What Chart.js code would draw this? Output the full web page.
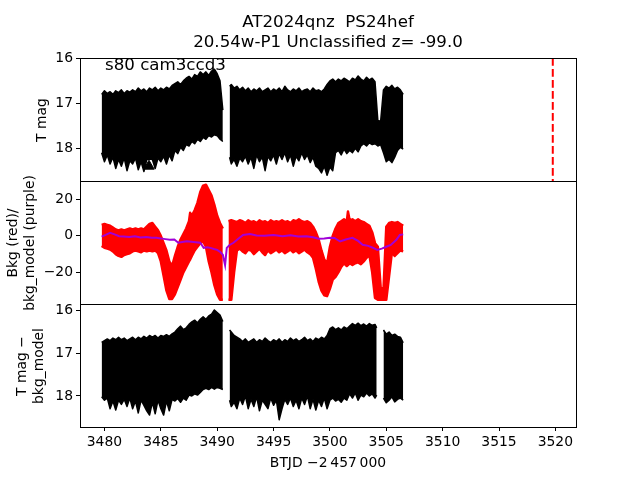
<!DOCTYPE html>
<html><head><meta charset="utf-8">
<script src="https://cdn.jsdelivr.net/npm/chart.js@4.4.1/dist/chart.umd.min.js"></script>
<style>
html,body{margin:0;padding:0;background:#fff;}
#fig{position:relative;width:640px;height:480px;overflow:hidden;font-family:'DejaVu Sans',sans-serif;color:#000;background:#fff;}
canvas{position:absolute;left:0;}
.t{position:absolute;white-space:pre;}
.rot{position:absolute;white-space:pre;text-align:center;transform:translate(-50%,-50%) rotate(-90deg);font-size:13.9px;line-height:16.7px;}
</style></head><body>
<div id="fig">
<canvas id="c1" width="640" height="155" style="top:42px"></canvas>
<canvas id="c2" width="640" height="155" style="top:165px"></canvas>
<canvas id="c3" width="640" height="192" style="top:288px"></canvas>
<div class="t" id="title" style="left:0;width:656px;top:12px;text-align:center;font-size:16.67px;line-height:20px;"></div>
<div class="t" id="note" style="left:105px;top:55px;font-size:16.67px;line-height:20px;"></div>
<div class="rot" id="yl1" style="left:41px;top:119.5px;"></div>
<div class="rot" id="yl2" style="left:21px;top:242.5px;"></div>
<div class="rot" id="yl3" style="left:30px;top:365.5px;"></div>
<div class="t" id="xl" style="left:0;width:656px;top:454px;text-align:center;font-size:13.9px;line-height:16px;"></div>
</div>
<script>
// ---- text ----
const titleLines = ["AT2024qnz  PS24hef", "20.54w-P1 Unclassified z= -99.0"];
const noteText = "s80 cam3ccd3";
const yLabel1 = "T mag";
const yLabel2 = "Bkg (red)/\nbkg_model (purple)";
const yLabel3 = "T mag \u2212\nbkg_model";
const xLabel = "BTJD \u22122\u2009457\u2009000";

// ---- axis ranges ----
const xRange = [3477.83, 3521.83];
const xTickStep = 5;
const y1Range = [15.99, 18.73];
const y2Range = [-37.3, 30.0];
const y3Range = [15.84, 18.73];

// ---- panel 1: T mag light curve (bright edge / faint edge of the error-bar cloud) ----
const p1T = [3479.75,3480.00,3480.25,3480.50,3480.75,3481.00,3481.25,3481.50,3481.75,3482.00,
3482.25,3482.50,3482.75,3483.00,3483.25,3483.50,3483.75,3484.00,3484.25,3484.50,
3484.75,3485.00,3485.25,3485.50,3485.75,3486.00,3486.25,3486.50,3486.75,3487.00,
3487.25,3487.50,3487.75,3488.00,3488.25,3488.50,3488.75,3489.00,3489.25,3489.50,
3489.75,3490.00,3490.25,3490.50,
3490.80,
3491.10,3491.25,3491.50,3491.75,3492.00,3492.25,3492.50,3492.75,3493.00,3493.25,
3493.50,3493.75,3494.00,3494.25,3494.50,3494.75,3495.00,3495.25,3495.50,3495.75,
3496.00,3496.25,3496.50,3496.75,3497.00,3497.25,3497.50,3497.75,3498.00,3498.25,
3498.50,3498.75,3499.00,3499.25,3499.50,3499.75,3500.00,3500.25,3500.50,3500.75,
3501.00,3501.25,3501.50,3501.75,3502.00,3502.25,3502.50,3502.75,3503.00,3503.25,
3503.50,3503.75,3504.00,3504.25,3504.50,3504.75,3505.00,3505.25,3505.50,3505.75,
3506.00,3506.25,3506.50];
const p1Bright = [16.80,16.72,16.78,16.74,16.80,16.72,16.76,16.70,16.78,16.72,
16.75,16.70,16.74,16.66,16.72,16.68,16.74,16.66,16.70,16.64,
16.72,16.66,16.70,16.64,16.68,16.60,16.56,16.52,16.58,16.50,
16.44,16.40,16.46,16.36,16.40,16.30,16.36,16.30,16.38,16.28,
16.24,16.34,16.50,17.15,
null,
16.62,16.58,16.66,16.62,16.70,16.64,16.72,16.66,16.74,16.68,
16.72,16.66,16.74,16.70,16.66,16.74,16.68,16.72,16.66,16.74,
16.62,16.70,16.74,16.68,16.72,16.66,16.74,16.70,16.68,16.74,
16.66,16.72,16.70,16.74,16.68,16.58,16.50,16.46,16.52,16.46,
16.50,16.44,16.48,16.52,16.44,16.48,16.39,16.46,16.50,16.42,
16.48,16.44,16.52,17.38,17.40,16.70,16.62,16.66,16.60,16.68,
16.64,16.70,16.80];
const p1Faint = [18.10,18.30,18.15,18.35,18.20,18.45,18.25,18.40,18.22,18.50,
18.28,18.35,18.22,18.48,18.30,18.52,18.26,18.24,18.25,18.45,
18.22,18.30,18.18,18.35,18.15,18.28,18.05,18.12,17.98,18.05,
17.92,17.95,17.85,17.90,17.80,17.85,17.76,17.80,17.72,17.75,
17.70,17.72,17.80,17.85,
null,
18.20,18.35,18.25,18.40,18.22,18.30,18.18,18.35,18.20,18.45,
18.15,18.30,18.20,18.50,18.18,18.28,18.15,18.35,18.12,18.25,
18.10,18.30,18.15,18.40,18.18,18.28,18.10,18.25,18.15,18.32,
18.20,18.40,18.45,18.55,18.40,18.60,18.42,18.50,18.10,18.05,
18.15,18.02,18.12,18.05,18.10,18.00,18.08,17.95,17.90,17.95,
17.88,17.92,17.90,17.95,17.92,18.10,18.30,18.25,18.32,18.20,
18.05,17.98,18.02];
const triT = [3483.95];
const triMag = [18.40];
const markerT = [3519.77];

// ---- panel 2: background (red points cloud) and background model (purple) ----
const p2T = [3479.75,3480.00,3480.25,3480.50,3480.75,3481.00,3481.25,3481.50,3481.75,3482.00,
3482.25,3482.50,3482.75,3483.00,3483.25,3483.50,3483.75,3484.00,3484.25,3484.50,
3484.75,3485.00,3485.25,3485.50,3485.75,3486.00,3486.25,3486.50,3486.75,3487.00,
3487.25,3487.50,3487.60,3487.75,3488.00,3488.25,3488.50,3488.75,3489.00,3489.25,
3489.50,3489.75,3490.00,3490.25,3490.50,
3490.75,
3491.00,3491.25,3491.50,3491.75,3492.00,3492.25,3492.50,3492.75,3493.00,3493.25,
3493.50,3493.75,3494.00,3494.25,3494.50,3494.75,3495.00,3495.25,3495.50,3495.75,
3496.00,3496.25,3496.50,3496.75,3497.00,3497.25,3497.50,3497.75,3498.00,3498.25,
3498.50,3498.75,3499.00,3499.25,3499.50,3499.75,3500.00,3500.25,3500.50,3500.75,
3501.00,3501.25,3501.50,3501.60,3501.75,3502.00,3502.25,3502.50,3502.75,3503.00,
3503.25,3503.50,3503.75,3504.00,3504.25,3504.50,3504.75,3505.00,3505.25,3505.50,
3505.75,3506.00,3506.25,3506.50];
const bkgHigh = [6.0,6.5,6.0,5.5,4.5,3.5,3.0,3.5,3.0,3.5,
4.0,3.5,4.0,3.5,4.0,3.5,5.0,6.5,7.0,5.0,
3.0,0.0,-4.0,-8.0,-14.0,-16.5,-11.0,-6.0,-2.0,1.0,
4.0,8.0,12.6,11.0,14.0,18.0,24.0,27.5,28.0,25.0,
22.0,17.0,11.0,7.0,4.0,
null,
8.0,8.5,8.0,7.5,8.5,8.0,7.0,8.5,7.5,8.0,
7.0,8.5,7.5,8.0,7.0,8.5,7.5,8.0,7.5,8.5,
7.5,8.0,7.0,8.5,8.0,9.0,8.0,7.5,8.0,7.0,
5.0,2.0,-2.0,-8.0,-13.0,-15.0,-6.0,0.0,4.0,7.0,
8.0,9.0,8.0,13.3,8.5,9.0,8.0,9.0,8.0,7.5,
6.5,5.5,2.0,-4.0,-6.0,-28.0,-30.0,5.0,7.0,7.5,
7.0,7.5,6.5,5.5];
const bkgLow = [-5.5,-6.5,-7.0,-7.5,-8.5,-10.0,-11.0,-11.5,-10.5,-10.0,
-9.5,-8.5,-8.0,-8.5,-9.0,-8.0,-8.5,-8.0,-8.5,-8.0,
-9.5,-14.0,-22.0,-30.0,-34.5,-34.5,-32.0,-28.0,-24.0,-20.0,
-17.0,-14.0,-13.0,-11.0,-8.0,-6.0,-4.0,-3.0,-6.0,-14.0,
-20.0,-27.0,-32.0,-35.0,-35.0,
null,
-35.0,-35.0,-20.0,-8.0,-7.0,-8.5,-9.5,-7.5,-8.0,-10.0,
-8.5,-7.0,-9.0,-10.5,-8.0,-9.5,-8.5,-7.5,-9.0,-8.0,
-9.5,-8.5,-7.5,-9.0,-8.0,-9.5,-8.5,-7.5,-9.0,-10.0,
-12.0,-18.0,-25.0,-30.0,-32.5,-33.0,-29.0,-24.0,-22.5,-20.0,
-17.0,-15.0,-16.5,-16.0,-15.0,-16.0,-15.0,-14.5,-15.5,-14.0,
-12.0,-10.5,-20.0,-34.0,-35.0,-35.0,-35.0,-35.0,-22.0,-9.0,
-11.0,-9.5,-8.0,-8.5];
const modelT = [3479.75,3480.10,3480.50,3480.90,3481.30,3481.70,3482.20,3482.70,3483.20,3483.70,
3484.20,3484.60,3485.00,3485.40,3485.80,3486.20,3486.55,3486.90,3487.30,3487.70,
3488.10,3488.50,3488.80,3489.10,3489.40,3489.70,3490.00,3490.30,3490.50,3490.70,
3490.85,3491.10,3491.45,3491.90,3492.30,3492.90,3493.50,3494.20,3495.00,3495.80,
3496.50,3497.20,3497.90,3498.50,3499.00,3499.50,3500.00,3500.40,3500.90,3501.40,
3502.00,3502.50,3502.90,3503.40,3503.80,3504.20,3504.60,3505.00,3505.40,3505.90,
3506.20,3506.50];
const modelV = [-0.4,0.5,1.6,0.8,-0.2,-0.4,-0.6,-0.3,-0.9,-0.6,
-1.0,-1.1,-1.4,-1.8,-2.2,-2.0,-3.8,-3.4,-3.0,-3.2,
-3.5,-3.8,-6.6,-6.2,-6.6,-7.2,-7.7,-9.0,-10.4,-16.0,
-6.6,-5.0,-3.8,-1.5,0.5,1.0,0.2,0.0,0.4,-0.2,
0.3,-0.3,-0.2,-0.8,-1.6,-1.4,-1.0,-1.2,-3.1,-2.0,
-1.1,-2.8,-4.9,-5.5,-6.5,-7.7,-7.0,-6.0,-5.0,-2.2,
0.5,0.8];

// ---- panel 3: T mag - bkg_model ----
const p3T = [3479.75,3480.00,3480.25,3480.50,3480.75,3481.00,3481.25,3481.50,3481.75,3482.00,
3482.25,3482.50,3482.75,3483.00,3483.25,3483.50,3483.75,3484.00,3484.25,3484.50,
3484.75,3485.00,3485.25,3485.50,3485.75,3486.00,3486.25,3486.50,3486.75,3487.00,
3487.25,3487.50,3487.75,3488.00,3488.25,3488.50,3488.75,3489.00,3489.25,3489.50,
3489.75,3490.00,3490.25,3490.50,
3490.80,
3491.10,3491.25,3491.50,3491.75,3492.00,3492.25,3492.50,3492.75,3493.00,3493.25,
3493.50,3493.75,3494.00,3494.25,3494.50,3494.75,3495.00,3495.25,3495.50,3495.75,
3496.00,3496.25,3496.50,3496.75,3497.00,3497.25,3497.50,3497.75,3498.00,3498.25,
3498.50,3498.75,3499.00,3499.25,3499.50,3499.75,3500.00,3500.25,3500.50,3500.75,
3501.00,3501.25,3501.50,3501.75,3502.00,3502.25,3502.50,3502.75,3503.00,3503.25,
3503.50,3503.75,3504.00,3504.15,
3504.45,
3504.75,3505.00,3505.25,3505.50,3505.75,3506.00,3506.25,3506.50];
const p3Bright = [16.74,16.70,16.66,16.70,16.64,16.68,16.62,16.68,16.64,16.70,
16.66,16.62,16.68,16.62,16.66,16.60,16.64,16.58,16.62,16.58,
16.64,16.58,16.60,16.56,16.60,16.54,16.50,16.42,16.36,16.44,
16.40,16.32,16.26,16.22,16.28,16.20,16.14,16.20,16.12,16.08,
15.98,16.04,16.10,16.25,
null,
16.45,16.50,16.58,16.62,16.66,16.72,16.66,16.74,16.70,16.66,
16.74,16.68,16.72,16.64,16.70,16.74,16.68,16.72,16.66,16.74,
16.68,16.72,16.64,16.70,16.66,16.72,16.68,16.62,16.70,16.66,
16.72,16.64,16.68,16.62,16.66,16.58,16.42,16.38,16.44,16.40,
16.45,16.38,16.42,16.36,16.30,16.34,16.29,16.35,16.31,16.36,
16.30,16.34,16.32,16.40,
null,
16.45,16.55,16.50,16.58,16.55,16.60,16.62,16.75];
const p3Faint = [18.02,18.10,18.05,18.30,18.12,18.33,18.10,18.20,18.08,18.25,
18.05,18.30,18.12,18.40,18.10,18.22,18.35,18.45,18.15,18.42,
18.10,18.30,18.45,18.12,18.35,18.08,18.12,18.06,18.15,18.05,
18.10,17.98,18.00,17.95,17.98,17.92,17.85,17.82,17.85,17.80,
17.84,17.80,17.82,17.85,
null,
18.10,18.25,18.15,18.30,18.05,18.20,18.00,18.30,18.08,18.25,
18.02,18.35,18.10,18.20,18.30,18.05,18.22,18.10,18.56,18.30,
18.08,18.20,18.05,18.25,18.10,18.30,18.05,18.20,18.00,18.30,
18.08,18.33,18.10,18.25,18.05,18.30,18.10,18.05,18.12,18.08,
18.15,18.05,18.10,17.95,18.05,17.93,18.10,17.98,18.02,17.93,
18.00,17.95,18.05,17.98,
null,
18.05,18.16,18.10,18.02,18.14,18.08,18.05,18.10];

// ---- text placement ----
document.getElementById('title').textContent = titleLines.join('\n');
document.getElementById('note').textContent = noteText;
document.getElementById('yl1').textContent = yLabel1;
document.getElementById('yl2').textContent = yLabel2;
document.getElementById('yl3').textContent = yLabel3;
document.getElementById('xl').textContent = xLabel;

// ---- helpers ----
const pts = (ts, ys) => ts.map((t, i) => ({x: t, y: ys[i]}));
const tickFont = {family: 'DejaVu Sans', size: 13.9};
const fmt = v => (v < 0 ? '\u2212' + Math.abs(v) : String(v));
const PAD = 16;

const boxPlugin = {
  id: 'box',
  afterDraw(chart) {
    const a = chart.chartArea, ctx = chart.ctx;
    ctx.save();
    ctx.strokeStyle = '#000';
    ctx.lineWidth = 1;
    ctx.strokeRect(Math.round(a.left) + 0.5, Math.round(a.top) + 0.5,
      Math.round(a.right - a.left), Math.round(a.bottom - a.top));
    ctx.restore();
  }
};

function band(ts, hi, lo, color, w) {
  return [
    {data: pts(ts, hi), borderColor: color, backgroundColor: color, borderWidth: w, order: 1,
     fill: '+1', pointRadius: 0, spanGaps: false, tension: 0, borderJoinStyle: 'round'},
    {data: pts(ts, lo), borderColor: color, backgroundColor: color, borderWidth: w, order: 1,
     fill: false, pointRadius: 0, spanGaps: false, tension: 0, borderJoinStyle: 'round'}
  ];
}

function makeChart(id, datasets, yr, step, reverse, showX) {
  const xScale = {
    type: 'linear', min: xRange[0], max: xRange[1], display: showX,
    ticks: {stepSize: xTickStep, includeBounds: false, font: tickFont, color: '#000',
            padding: 3, maxRotation: 0, autoSkip: false, callback: v => String(v)},
    grid: {drawOnChartArea: false, drawTicks: true, tickLength: 4, color: '#000'},
    border: {display: false}
  };
  if (showX) xScale.afterFit = s => { s.height = 53; };
  return new Chart(document.getElementById(id), {
    type: 'line',
    data: {datasets},
    options: {
      responsive: false, animation: false, devicePixelRatio: 1,
      layout: {padding: {top: PAD, bottom: showX ? 0 : PAD, left: 0, right: 64}},
      plugins: {legend: {display: false}, tooltip: {enabled: false}},
      elements: {point: {radius: 0}},
      scales: {
        x: xScale,
        y: {
          type: 'linear', min: yr[0], max: yr[1], reverse: reverse,
          afterFit: s => { s.width = 80; },
          ticks: {stepSize: step, includeBounds: false, font: tickFont, color: '#000',
                  padding: 3, callback: fmt},
          grid: {drawOnChartArea: false, drawTicks: true, tickLength: 4, color: '#000'},
          border: {display: false}
        }
      }
    },
    plugins: [boxPlugin]
  });
}

// panel 1
makeChart('c1', [
  ...band(p1T, p1Bright, p1Faint, '#000', 1.5),
  {data: pts(triT, triMag), showLine: false, pointStyle: 'triangle', pointRadius: 6, order: 0,
   pointBackgroundColor: '#000', pointBorderColor: '#000'},
  {data: [{x: markerT[0], y: y1Range[0]}, {x: markerT[0], y: y1Range[1]}], order: 0,
   borderColor: '#ff0000', borderWidth: 2, borderDash: [7.7, 3.3], pointRadius: 0, fill: false}
], y1Range, 1, true, false);

// panel 2
makeChart('c2', [
  ...band(p2T, bkgHigh, bkgLow, '#ff0000', 2.5),
  {data: pts(modelT, modelV), borderColor: '#a000d8', borderWidth: 2, pointRadius: 0, order: 0,
   fill: false, tension: 0}
], y2Range, 20, false, false);

// panel 3
makeChart('c3', band(p3T, p3Bright, p3Faint, '#000', 1.5), y3Range, 1, true, true);
</script>
</body></html>
